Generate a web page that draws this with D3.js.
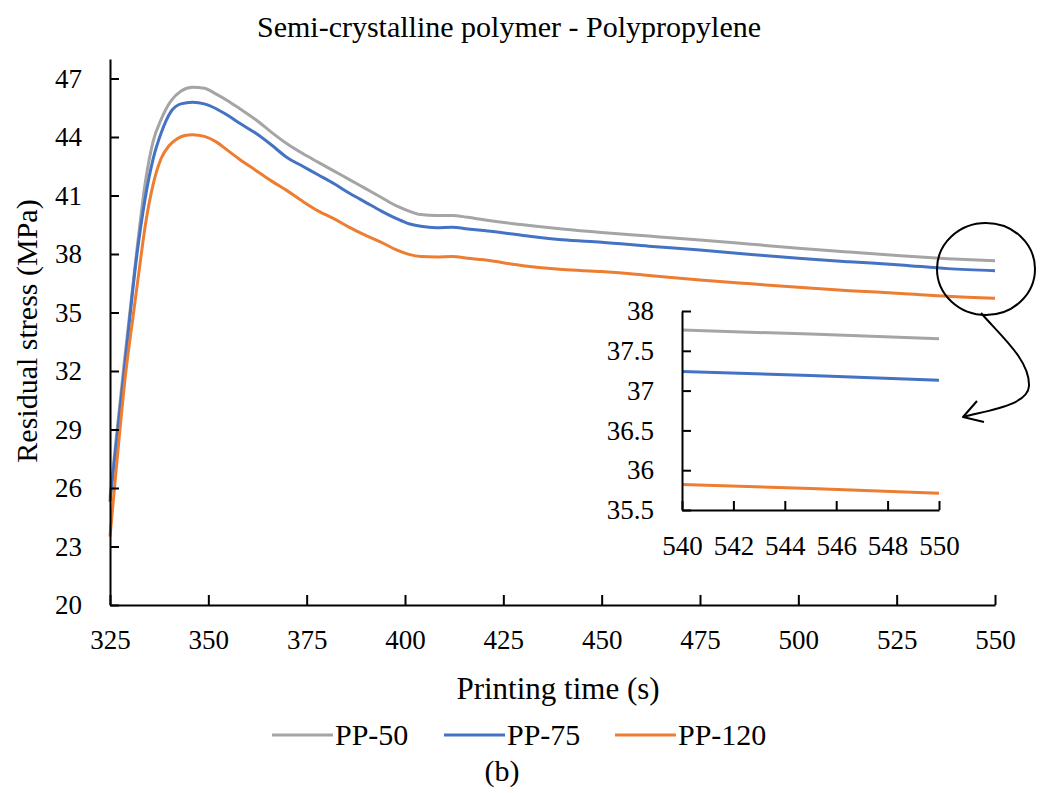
<!DOCTYPE html>
<html lang="en">
  <head>
    <meta charset="UTF-8" />
    <title>Semi-crystalline polymer - Polypropylene</title>
    <script src="https://cdn.jsdelivr.net/npm/d3@7"></script>
    <style>
      body {
        margin: 0;
        background: #fff;
      }
      svg text {
        font-family: "Liberation Serif", "DejaVu Serif", serif;
        fill: #000;
      }
    </style>
  </head>
  <body>
    <div id="main-div"></div>
    <script>
      // series names and colours
      const seriesNames = ["PP-50", "PP-75", "PP-120"];
      const seriesColors = ["#a5a5a5", "#4472c4", "#ed7d31"];

      // main chart: printing time (s) and residual stress (MPa)
      const timePP50 = [325, 328.5, 332, 334, 336, 338, 340.5, 343, 346, 349, 352, 355, 358, 362, 366, 370, 374, 378, 382, 386, 390, 394, 398, 401, 404, 408, 412, 416, 420, 430, 440, 450, 462, 475, 488, 500, 513, 526, 538, 550];
      const stressPP50 = [25.5, 32.2, 38.5, 41.7, 43.8, 44.9, 45.85, 46.35, 46.55, 46.5, 46.2, 45.85, 45.45, 44.9, 44.25, 43.65, 43.15, 42.7, 42.25, 41.8, 41.35, 40.9, 40.45, 40.2, 40.02, 39.97, 39.98, 39.88, 39.76, 39.5, 39.28, 39.1, 38.92, 38.72, 38.5, 38.3, 38.1, 37.91, 37.76, 37.65];

      const timePP75 = [325, 328.6, 331.8, 333.9, 336, 338, 340.5, 343, 346, 349, 352, 355, 358, 362, 366, 370, 374, 378, 382, 386, 390, 394, 398, 401, 404, 408, 412, 416, 420, 430, 440, 450, 462, 475, 488, 500, 513, 526, 538, 550];
      const stressPP75 = [25.3, 32.0, 37.9, 40.8, 42.9, 44.2, 45.3, 45.7, 45.78, 45.7, 45.45, 45.1, 44.7, 44.2, 43.6, 42.95, 42.5, 42.05, 41.6, 41.1, 40.65, 40.2, 39.8, 39.55, 39.42, 39.35, 39.37, 39.28, 39.2, 38.95, 38.73, 38.6, 38.4, 38.2, 37.98, 37.78, 37.6, 37.44, 37.25, 37.14];

      const timePP120 = [325, 326.5, 329, 331, 332.5, 334, 336, 338, 340, 342, 344, 346, 349, 352, 355, 358, 362, 366, 370, 374, 378, 382, 386, 390, 394, 398, 401, 404, 408, 412, 416, 420, 430, 440, 450, 462, 475, 488, 500, 513, 526, 538, 550];
      const stressPP120 = [23.5, 26.8, 31.9, 35.0, 37.3, 39.5, 41.6, 42.9, 43.55, 43.9, 44.08, 44.12, 44.03, 43.75, 43.3, 42.85, 42.3, 41.75, 41.25, 40.7, 40.2, 39.8, 39.35, 38.95, 38.6, 38.2, 37.98, 37.87, 37.85, 37.87, 37.78, 37.7, 37.4, 37.2, 37.1, 36.9, 36.67, 36.47, 36.29, 36.12, 35.98, 35.83, 35.73];

      const xTicks = [325, 350, 375, 400, 425, 450, 475, 500, 525, 550];
      const yTicks = [20, 23, 26, 29, 32, 35, 38, 41, 44, 47];

      // zoomed inset (540-550 s)
      const insetTime = [540, 545, 550];
      const insetPP50 = [37.76, 37.71, 37.65];
      const insetPP75 = [37.24, 37.19, 37.13];
      const insetPP120 = [35.82, 35.77, 35.71];
      const insetXTicks = [540, 542, 544, 546, 548, 550];
      const insetYTicks = [35.5, 36, 36.5, 37, 37.5, 38];

      const width = 1043;
      const height = 793;
      const serif = '"Liberation Serif", "DejaVu Serif", serif';

      const svg = d3
        .select("#main-div")
        .append("svg")
        .attr("width", width)
        .attr("height", height);

      const pair = (ts, vs) => ts.map((t, i) => ({ t: t, v: vs[i] }));
      const mainSeries = [
        pair(timePP50, stressPP50),
        pair(timePP75, stressPP75),
        pair(timePP120, stressPP120),
      ];
      const insetSeries = [
        pair(insetTime, insetPP50),
        pair(insetTime, insetPP75),
        pair(insetTime, insetPP120),
      ];

      // main scales
      let x = d3.scaleLinear().domain([325, 550]).range([110, 995]);
      let y = d3.scaleLinear().domain([20, 48]).range([605, 59]);

      let line = d3
        .line()
        .curve(d3.curveMonotoneX)
        .x((d) => x(d.t))
        .y((d) => y(d.v));

      // lines first, axes on top
      mainSeries.forEach((s, i) => {
        svg
          .append("path")
          .datum(s)
          .attr("d", line)
          .attr("fill", "none")
          .attr("stroke", seriesColors[i])
          .attr("stroke-width", 3)
          .attr("stroke-linejoin", "round");
      });

      function styleAxis(g, size) {
        g.attr("font-family", serif).attr("font-size", size);
        g.select(".domain").attr("stroke", "#000").attr("stroke-width", 2);
        g.selectAll(".tick line").attr("stroke", "#000").attr("stroke-width", 2);
        g.selectAll(".tick text").style("font-family", serif).style("font-size", size + "px");
      }

      let xAxis = svg
        .append("g")
        .attr("transform", "translate(0," + 605 + ")")
        .call(
          d3.axisBottom(x).tickValues(xTicks).tickSizeInner(-10).tickSizeOuter(0).tickPadding(25)
        );
      styleAxis(xAxis, 27);

      let yAxis = svg
        .append("g")
        .attr("transform", "translate(110,0)")
        .call(
          d3.axisLeft(y).tickValues(yTicks).tickSizeInner(-9).tickSizeOuter(0).tickPadding(28)
        );
      styleAxis(yAxis, 27);

      // inset
      let xi = d3.scaleLinear().domain([540, 550]).range([682, 939]);
      let yi = d3.scaleLinear().domain([35.5, 38]).range([510, 311]);

      let insetLine = d3
        .line()
        .x((d) => xi(d.t))
        .y((d) => yi(d.v));

      insetSeries.forEach((s, i) => {
        svg
          .append("path")
          .datum(s)
          .attr("d", insetLine)
          .attr("fill", "none")
          .attr("stroke", seriesColors[i])
          .attr("stroke-width", 3);
      });

      let xiAxis = svg
        .append("g")
        .attr("transform", "translate(0,510)")
        .call(
          d3.axisBottom(xi).tickValues(insetXTicks).tickSizeInner(-9).tickSizeOuter(0).tickPadding(26)
        );
      styleAxis(xiAxis, 27);

      let yiAxis = svg
        .append("g")
        .attr("transform", "translate(682,0)")
        .call(
          d3.axisLeft(yi).tickValues(insetYTicks).tickFormat(d3.format("")).tickSizeInner(-9).tickSizeOuter(0).tickPadding(28)
        );
      styleAxis(yiAxis, 27);

      // circle around the end of the curves and the arrow to the inset
      svg
        .append("ellipse")
        .attr("cx", 986)
        .attr("cy", 269)
        .attr("rx", 49)
        .attr("ry", 46)
        .attr("fill", "none")
        .attr("stroke", "#000")
        .attr("stroke-width", 2);

      svg
        .append("path")
        .attr("d", "M981,313 C1000,335 1030,360 1029,386 C1028,405 990,410 963,417")
        .attr("fill", "none")
        .attr("stroke", "#000")
        .attr("stroke-width", 2);
      svg
        .append("path")
        .attr("d", "M977,401 L963,417 L984,422")
        .attr("fill", "none")
        .attr("stroke", "#000")
        .attr("stroke-width", 2)
        .attr("stroke-linejoin", "round");

      // titles
      svg
        .append("text")
        .attr("x", 509)
        .attr("y", 37)
        .attr("text-anchor", "middle")
        .attr("font-size", 30)
        .text("Semi-crystalline polymer - Polypropylene");

      svg
        .append("text")
        .attr("x", 558)
        .attr("y", 699)
        .attr("text-anchor", "middle")
        .attr("font-size", 31)
        .text("Printing time (s)");

      svg
        .append("text")
        .attr("transform", "translate(37,331) rotate(-90)")
        .attr("text-anchor", "middle")
        .attr("font-size", 30)
        .text("Residual stress (MPa)");

      // legend
      const legendX = [272, 444, 615];
      seriesNames.forEach((name, i) => {
        let g = svg.append("g").attr("transform", "translate(" + legendX[i] + ",735)");
        g.append("line")
          .attr("x1", 0)
          .attr("x2", 61)
          .attr("stroke", seriesColors[i])
          .attr("stroke-width", 3);
        g.append("text")
          .attr("x", 63)
          .attr("y", 10)
          .attr("font-size", 30)
          .text(name);
      });

      svg
        .append("text")
        .attr("x", 502)
        .attr("y", 781)
        .attr("text-anchor", "middle")
        .attr("font-size", 30)
        .text("(b)");
    </script>
  </body>
</html>
